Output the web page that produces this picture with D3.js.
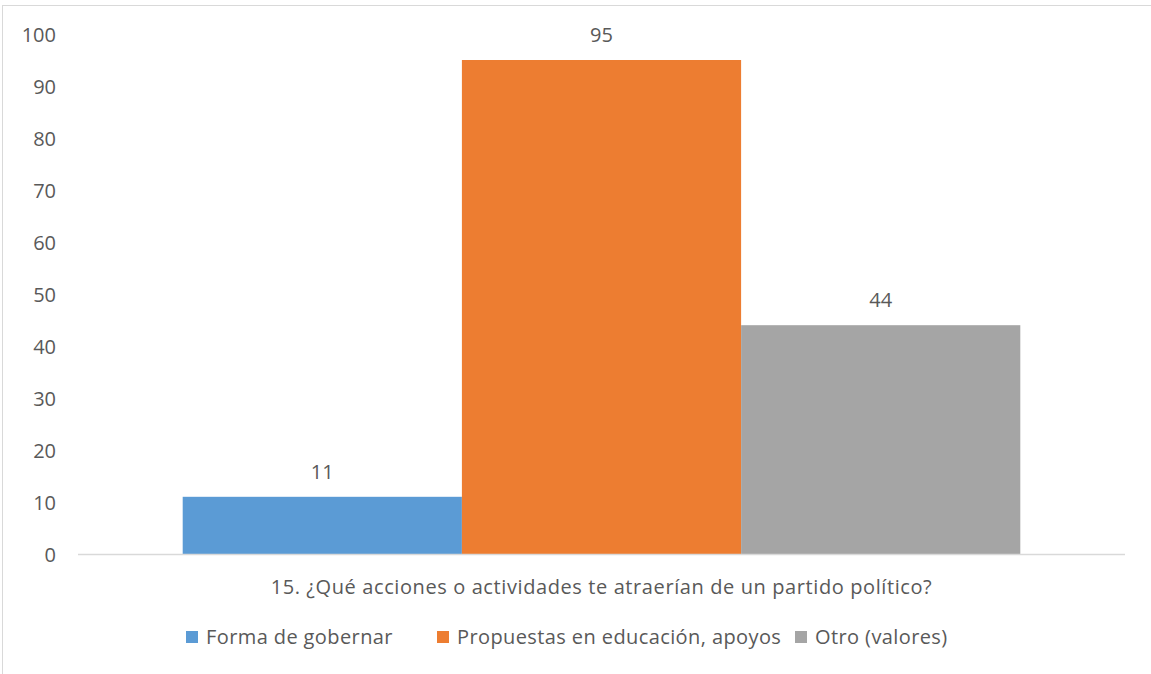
<!DOCTYPE html>
<html>
<head>
<meta charset="utf-8">
<script src="https://cdn.jsdelivr.net/npm/d3@7"></script>
<style>
  body { margin: 0; background: #fff; }
  text { font-family: "Open Sans", sans-serif; fill: #595959; }
</style>
</head>
<body>
<div id="chart-area"></div>
<script>
const categories = ['15. ¿Qué acciones o actividades te atraerían de un partido político?'];
const seriesNames = ['Forma de gobernar', 'Propuestas en educación, apoyos', 'Otro (valores)'];
const seriesValues = [11, 95, 44];
const seriesColors = ['#5B9BD5', '#ED7D31', '#A5A5A5'];
const yTicks = [0, 10, 20, 30, 40, 50, 60, 70, 80, 90, 100];

const W = 1151, H = 674;
const plot = { left: 78, right: 1125, top: 34, bottom: 554 };
const fontSize = '20px';

const svg = d3.select('#chart-area')
  .append('svg')
  .attr('width', W)
  .attr('height', H);

// chart border
svg.append('rect')
  .attr('x', 2.5).attr('y', 5.5)
  .attr('width', W + 10).attr('height', H + 10)
  .attr('fill', 'none')
  .attr('stroke', '#d9d9d9');

const x0 = d3.scaleBand()
  .domain(categories)
  .range([plot.left, plot.right]);

const x1 = d3.scaleBand()
  .domain(seriesNames)
  .range([0, x0.bandwidth()])
  .paddingOuter(0.375);

const y = d3.scaleLinear()
  .domain([0, 100])
  .range([plot.bottom, plot.top]);

// y tick labels
svg.append('g')
  .selectAll('text')
  .data(yTicks)
  .enter()
  .append('text')
  .attr('x', 56)
  .attr('y', (d) => y(d) + 1)
  .attr('dy', '0.35em')
  .attr('text-anchor', 'end')
  .attr('font-size', fontSize)
  .text((d) => d);

// bars
const bars = seriesNames.map((name, i) => ({ name: name, value: seriesValues[i], color: seriesColors[i] }));

svg.append('g')
  .selectAll('rect')
  .data(bars)
  .enter()
  .append('rect')
  .attr('x', (d) => x0(categories[0]) + x1(d.name))
  .attr('y', (d) => y(d.value))
  .attr('width', x1.bandwidth())
  .attr('height', (d) => y(0) - y(d.value))
  .attr('fill', (d) => d.color);

// value labels
svg.append('g')
  .selectAll('text')
  .data(bars)
  .enter()
  .append('text')
  .attr('x', (d) => x0(categories[0]) + x1(d.name) + x1.bandwidth() / 2)
  .attr('y', (d) => y(d.value) - 25)
  .attr('dy', '0.35em')
  .attr('text-anchor', 'middle')
  .attr('font-size', fontSize)
  .text((d) => d.value);

// baseline
svg.append('line')
  .attr('x1', plot.left).attr('x2', plot.right)
  .attr('y1', y(0) + 0.5).attr('y2', y(0) + 0.5)
  .attr('stroke', '#d9d9d9')
  .attr('stroke-width', 1.5);

// category label
svg.append('text')
  .attr('x', x0(categories[0]) + x0.bandwidth() / 2)
  .attr('y', 587)
  .attr('dy', '0.35em')
  .attr('text-anchor', 'middle')
  .attr('font-size', fontSize)
  .attr('letter-spacing', '0.6px')
  .text(categories[0]);

// legend
const legendX = [186, 437, 795];
const legend = svg.append('g')
  .selectAll('g')
  .data(bars)
  .enter()
  .append('g')
  .attr('transform', (d, i) => 'translate(' + legendX[i] + ', 637)');

legend.append('rect')
  .attr('x', 0).attr('y', -6)
  .attr('width', 12).attr('height', 12)
  .attr('fill', (d) => d.color);

legend.append('text')
  .attr('x', 20)
  .attr('y', 0)
  .attr('dy', '0.35em')
  .attr('font-size', fontSize)
  .attr('letter-spacing', '0.4px')
  .text((d) => d.name);
</script>
</body>
</html>
